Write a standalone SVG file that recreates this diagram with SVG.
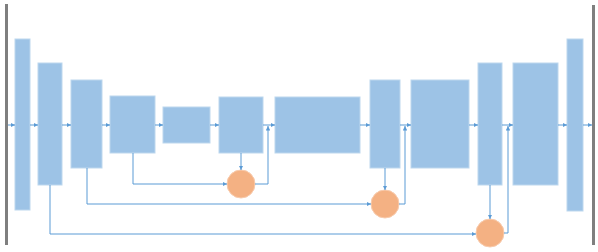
<svg xmlns="http://www.w3.org/2000/svg" width="598" height="252" viewBox="0 0 598 252">
<defs>
<style>
.box{fill:#9DC3E6;stroke:#BDD7EE;stroke-width:1}
.op{fill:#F4B183;stroke:#F8CBAD;stroke-width:1}
.bar{fill:#7F7F7F}
.ln{fill:none;stroke:#5B9BD5;stroke-width:1}
</style>
<marker id="ah" viewBox="0 0 6 6" refX="6" refY="3" markerWidth="4.5" markerHeight="4.5" orient="auto" markerUnits="userSpaceOnUse">
<path d="M0,0 L6,3 L0,6 Z" fill="#5B9BD5"/>
</marker>
</defs>
<rect x="0" y="0" width="598" height="252" fill="#FFFFFF"/>
<g id="input-bar"><rect class="bar" x="5" y="4" width="3" height="241"/></g>
<g id="output-bar"><rect class="bar" x="592" y="5" width="3" height="240"/></g>
<g id="b1"><rect class="box" x="15" y="39" width="15" height="171"/></g>
<g id="b2"><rect class="box" x="38" y="63" width="24" height="122"/></g>
<g id="b3"><rect class="box" x="71" y="80" width="31" height="88"/></g>
<g id="b4"><rect class="box" x="110" y="96" width="45" height="57"/></g>
<g id="b5"><rect class="box" x="163" y="107" width="47" height="36"/></g>
<g id="b6"><rect class="box" x="219" y="97" width="44" height="56"/></g>
<g id="b7"><rect class="box" x="275" y="97" width="85" height="56"/></g>
<g id="b8"><rect class="box" x="370" y="80" width="30" height="88"/></g>
<g id="b9"><rect class="box" x="411" y="80" width="58" height="88"/></g>
<g id="b10"><rect class="box" x="478" y="63" width="24" height="122"/></g>
<g id="b11"><rect class="box" x="513" y="63" width="45" height="122"/></g>
<g id="b12"><rect class="box" x="567" y="39" width="16" height="172"/></g>
<g id="c1"><circle class="op" cx="241" cy="184" r="14"/></g>
<g id="c2"><circle class="op" cx="385" cy="204" r="14"/></g>
<g id="c3"><circle class="op" cx="490" cy="233" r="14"/></g>
<g id="connectors">
<path class="ln" d="M8,125 H15" marker-end="url(#ah)"/>
<path class="ln" d="M30,125 H38" marker-end="url(#ah)"/>
<path class="ln" d="M62,125 H71" marker-end="url(#ah)"/>
<path class="ln" d="M102,125 H110" marker-end="url(#ah)"/>
<path class="ln" d="M155,125 H163" marker-end="url(#ah)"/>
<path class="ln" d="M210,125 H219" marker-end="url(#ah)"/>
<path class="ln" d="M263,125 H275" marker-end="url(#ah)"/>
<path class="ln" d="M360,125 H370" marker-end="url(#ah)"/>
<path class="ln" d="M400,125 H411" marker-end="url(#ah)"/>
<path class="ln" d="M469,125 H478" marker-end="url(#ah)"/>
<path class="ln" d="M502,125 H513" marker-end="url(#ah)"/>
<path class="ln" d="M558,125 H567" marker-end="url(#ah)"/>
<path class="ln" d="M583,125 H592" marker-end="url(#ah)"/>
<path class="ln" d="M133,153 V184 H227" marker-end="url(#ah)"/>
<path class="ln" d="M87,168 V204 H371" marker-end="url(#ah)"/>
<path class="ln" d="M50,185 V234 H476" marker-end="url(#ah)"/>
<path class="ln" d="M241,153 V170" marker-end="url(#ah)"/>
<path class="ln" d="M385,168 V190" marker-end="url(#ah)"/>
<path class="ln" d="M490,185 V219" marker-end="url(#ah)"/>
<path class="ln" d="M255,184 H268 V126" marker-end="url(#ah)"/>
<path class="ln" d="M399,204 H405 V126" marker-end="url(#ah)"/>
<path class="ln" d="M504,233 H508 V126" marker-end="url(#ah)"/>
</g>
</svg>
